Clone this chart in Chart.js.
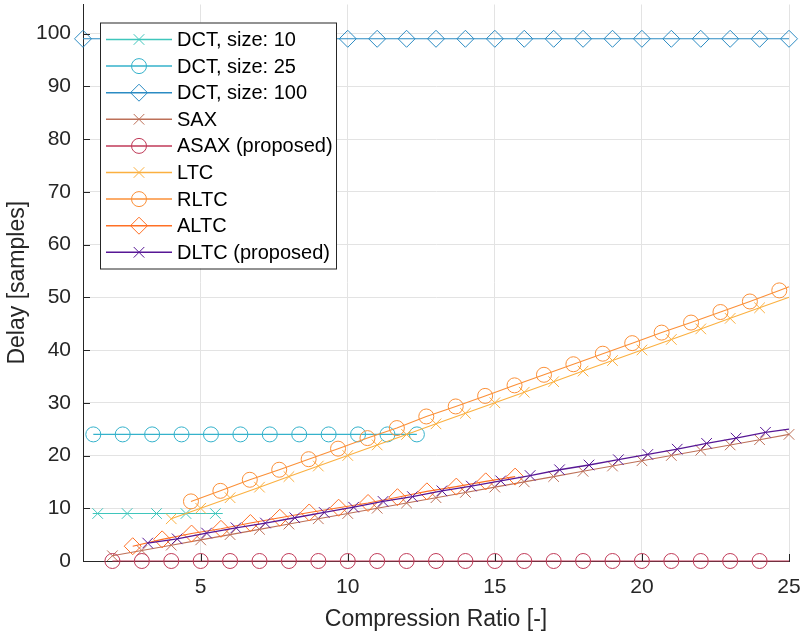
<!DOCTYPE html>
<html>
<head>
<meta charset="utf-8">
<script src="https://cdn.jsdelivr.net/npm/chart.js@4.4.1/dist/chart.umd.min.js"></script>
<style>
  html, body { margin: 0; padding: 0; background: #fff; overflow: hidden; }
  #myChart { display: block; margin-top: -5px; }
</style>
</head>
<body>
<canvas id="myChart" width="801" height="638"></canvas>
<script>
// values
const xTicks = [5, 10, 15, 20, 25];
const yTicks = [0, 10, 20, 30, 40, 50, 60, 70, 80, 90, 100];

const dct10X = [1.33, 1.5, 2.5, 3.5, 4.5, 5.5, 5.75];
const dct10Y = [9, 9, 9, 9, 9, 9, 9];

const dct25X = [1.35, 2.35, 3.35, 4.35, 5.35, 6.35, 7.35, 8.35, 9.35, 10.35, 11.35, 12.35];
const dct25Y = [24, 24, 24, 24, 24, 24, 24, 24, 24, 24, 24, 24];

const dct100X = [1, 2, 3, 4, 5, 6, 7, 8, 9, 10, 11, 12, 13, 14, 15, 16, 17, 18, 19, 20, 21, 22, 23, 24, 25];
const dct100Y = [99, 99, 99, 99, 99, 99, 99, 99, 99, 99, 99, 99, 99, 99, 99, 99, 99, 99, 99, 99, 99, 99, 99, 99, 99];

const saxX = [2, 3, 4, 5, 6, 7, 8, 9, 10, 11, 12, 13, 14, 15, 16, 17, 18, 19, 20, 21, 22, 23, 24, 25];
const saxY = [1, 2, 3, 4, 5, 6, 7, 8, 9, 10, 11, 12, 13, 14, 15, 16, 17, 18, 19, 20, 21, 22, 23, 24];

const asaxX = [2, 3, 4, 5, 6, 7, 8, 9, 10, 11, 12, 13, 14, 15, 16, 17, 18, 19, 20, 21, 22, 23, 24, 25];
const asaxY = [0, 0, 0, 0, 0, 0, 0, 0, 0, 0, 0, 0, 0, 0, 0, 0, 0, 0, 0, 0, 0, 0, 0, 0];

const ltcX = [4, 5, 6, 7, 8, 9, 10, 11, 12, 13, 14, 15, 16, 17, 18, 19, 20, 21, 22, 23, 24, 25];
const ltcY = [8, 10, 12, 14, 16, 18, 20, 22, 24, 26, 28, 30, 32, 34, 36, 38, 40, 42, 44, 46, 48, 50];

const rltcX = [4.67, 5.67, 6.67, 7.67, 8.67, 9.67, 10.67, 11.67, 12.67, 13.67, 14.67, 15.67, 16.67,
               17.67, 18.67, 19.67, 20.67, 21.67, 22.67, 23.67, 24.67, 25];
const rltcY = [11.3, 13.3, 15.4, 17.3, 19.3, 21.3, 23.3, 25.2, 27.4, 29.3, 31.3, 33.3, 35.3,
               37.3, 39.3, 41.3, 43.3, 45.2, 47.2, 49.2, 51.3, 52.0];

const altcX = [2.69, 3.69, 4.69, 5.69, 6.69, 7.69, 8.69, 9.69, 10.69, 11.69, 12.69, 13.69, 14.69, 15.69];
const altcY = [2.8, 4.1, 5.2, 6.1, 7.2, 8.2, 9.2, 10.1, 11.0, 12.1, 13.2, 14.1, 15.1, 16.0];

const dltcX = [3.2, 4.2, 5.2, 6.2, 7.2, 8.2, 9.2, 10.2, 11.2, 12.2, 13.2, 14.2, 15.2, 16.2,
               17.2, 18.2, 19.2, 20.2, 21.2, 22.2, 23.2, 24.2, 25];
const dltcY = [3.4, 4.2, 5.3, 6.3, 7.2, 8.2, 9.2, 10.2, 11.3, 12.2, 13.3, 14.2, 15.2, 16.2,
               17.3, 18.2, 19.2, 20.2, 21.2, 22.3, 23.3, 24.4, 25.0];

const FONT = "'Liberation Sans', Arial, sans-serif";
const AXIS_COLOR = '#262626';

const markerSize = { circle: 7.5, rectRot: 8.5, crossRot: 7.5 };

// label, xs, ys, colour, marker, indices drawn without a marker
const series = [
    ['DCT, size: 10', dct10X, dct10Y, '#3fc6bc', 'crossRot', [0, 6]],
    ['DCT, size: 25', dct25X, dct25Y, '#35b2cb', 'circle', []],
    ['DCT, size: 100', dct100X, dct100Y, '#2b8bc3', 'rectRot', []],
    ['SAX', saxX, saxY, '#bd7058', 'crossRot', []],
    ['ASAX (proposed)', asaxX, asaxY, '#c03a58', 'circle', [23]],
    ['LTC', ltcX, ltcY, '#fbb040', 'crossRot', [21]],
    ['RLTC', rltcX, rltcY, '#fb9038', 'circle', [21]],
    ['ALTC', altcX, altcY, '#ff7025', 'rectRot', []],
    ['DLTC (proposed)', dltcX, dltcY, '#571795', 'crossRot', [22]]
];

const datasets = series.map(([label, xs, ys, color, marker, hidden], i) => ({
    label: label,
    data: xs.map((x, k) => ({ x: x, y: ys[k] })),
    borderColor: color,
    backgroundColor: color,
    borderWidth: i === 8 ? 1.3 : 1.1,
    pointStyle: marker,
    pointRadius: xs.map((x, k) => hidden.includes(k) ? 0 : markerSize[marker]),
    pointBorderColor: color,
    pointBackgroundColor: 'rgba(0,0,0,0)',
    pointBorderWidth: 1,
    tension: 0,
    clip: false,
    order: series.length - i
}));

// MATLAB style inward tick marks
const innerTicks = {
    id: 'innerTicks',
    afterDatasetsDraw(chart) {
        const { ctx, chartArea: a, scales } = chart;
        ctx.save();
        ctx.strokeStyle = AXIS_COLOR;
        ctx.lineWidth = 1;
        ctx.beginPath();
        xTicks.forEach(v => {
            const px = Math.round(scales.x.getPixelForValue(v)) + 0.5;
            ctx.moveTo(px, a.bottom);
            ctx.lineTo(px, a.bottom - 7);
        });
        yTicks.forEach(v => {
            const py = Math.round(scales.y.getPixelForValue(v)) + 0.5;
            ctx.moveTo(a.left, py);
            ctx.lineTo(a.left + 7, py);
        });
        ctx.stroke();
        ctx.restore();
    }
};

const drawMarker = (ctx, style, x, y, r) => {
    ctx.beginPath();
    if (style === 'circle') {
        ctx.arc(x, y, r, 0, Math.PI * 2);
    } else if (style === 'rectRot') {
        ctx.moveTo(x - r, y);
        ctx.lineTo(x, y - r);
        ctx.lineTo(x + r, y);
        ctx.lineTo(x, y + r);
        ctx.closePath();
    } else {
        const d = r * Math.SQRT1_2;
        ctx.moveTo(x - d, y - d);
        ctx.lineTo(x + d, y + d);
        ctx.moveTo(x + d, y - d);
        ctx.lineTo(x - d, y + d);
    }
    ctx.stroke();
};

// boxed legend with line + marker samples, drawn over the data
const boxLegend = {
    id: 'boxLegend',
    afterDraw(chart) {
        const { ctx, chartArea: a } = chart;
        const left = a.left + 17, top = a.top + 18;
        const w = 236, h = 246, step = 26.6;
        ctx.save();
        ctx.fillStyle = '#fff';
        ctx.fillRect(left, top, w, h);
        ctx.strokeStyle = AXIS_COLOR;
        ctx.lineWidth = 1;
        ctx.strokeRect(left + 0.5, top + 0.5, w, h);
        chart.data.datasets.forEach((ds, i) => {
            const y = top + 17 + i * step;
            ctx.strokeStyle = ds.borderColor;
            ctx.lineWidth = 1.5;
            ctx.beginPath();
            ctx.moveTo(left + 6, y);
            ctx.lineTo(left + 72, y);
            ctx.stroke();
            ctx.lineWidth = 1;
            drawMarker(ctx, ds.pointStyle, left + 39, y, markerSize[ds.pointStyle]);
            ctx.fillStyle = '#000';
            ctx.font = '20px ' + FONT;
            ctx.textBaseline = 'middle';
            ctx.textAlign = 'left';
            ctx.fillText(ds.label, left + 77, y + 1);
        });
        ctx.restore();
    }
};

const ctx = document.getElementById('myChart').getContext('2d');
new Chart(ctx, {
    type: 'line',
    data: { datasets: datasets },
    options: {
        responsive: false,
        animation: false,
        devicePixelRatio: 1,
        layout: { padding: { top: 5, right: 12, left: 0, bottom: 0 } },
        plugins: {
            legend: { display: false },
            tooltip: { enabled: false }
        },
        scales: {
            x: {
                type: 'linear',
                min: 1,
                max: 25,
                afterBuildTicks: scale => { scale.ticks = xTicks.map(v => ({ value: v })); },
                afterFit: scale => {
                    scale.height = 72;
                    scale.paddingLeft = 0;
                    scale.paddingRight = 0;
                },
                grid: { color: '#e3e3e3', drawTicks: false },
                border: { color: AXIS_COLOR, width: 1 },
                ticks: { color: AXIS_COLOR, padding: 14, maxRotation: 0, font: { family: FONT, size: 21 } },
                title: {
                    display: true,
                    text: 'Compression Ratio [-]',
                    color: AXIS_COLOR,
                    font: { family: FONT, size: 23 },
                    padding: { top: 0, bottom: 0 }
                }
            },
            y: {
                type: 'linear',
                min: 0,
                max: 105.5,
                afterBuildTicks: scale => { scale.ticks = yTicks.map(v => ({ value: v })); },
                afterFit: scale => {
                    scale.width = 83;
                    scale.paddingTop = 0;
                    scale.paddingBottom = 0;
                },
                grid: { color: '#e3e3e3', drawTicks: false },
                border: { color: AXIS_COLOR, width: 1 },
                ticks: { color: AXIS_COLOR, padding: 12, font: { family: FONT, size: 21 } },
                title: {
                    display: true,
                    text: 'Delay [samples]',
                    color: AXIS_COLOR,
                    font: { family: FONT, size: 23 },
                    padding: { top: 4, bottom: 0 }
                }
            }
        }
    },
    plugins: [innerTicks, boxLegend]
});
</script>
</body>
</html>
